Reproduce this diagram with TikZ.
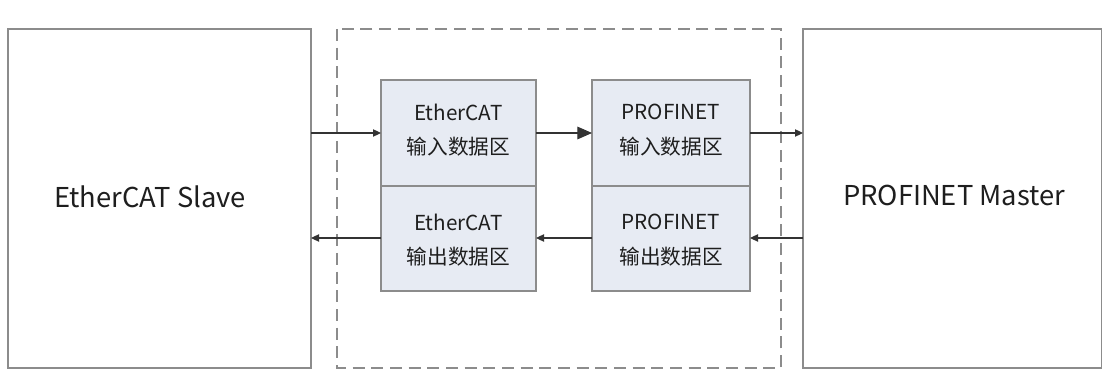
\documentclass[tikz,border=0pt]{standalone}
\usepackage{fontspec}
\setmainfont{Noto Sans CJK SC}
\usetikzlibrary{arrows.meta}
\definecolor{boxline}{HTML}{8C8C8C}
\definecolor{innerfill}{HTML}{E7EBF3}
\definecolor{arrowc}{HTML}{333333}
\definecolor{txt}{HTML}{1E1E1E}
\tikzset{
  bigbox/.style={draw=boxline, line width=1pt, fill=white},
  inbox/.style={draw=boxline, line width=1pt, fill=innerfill},
  dashbox/.style={draw=boxline, line width=1pt, dash pattern=on 9pt off 5pt},
  conn/.style={draw=arrowc, line width=0.8pt, -{Triangle[length=6pt,width=5.5pt]}},
  bigconn/.style={draw=arrowc, line width=0.8pt, -{Triangle[length=11pt,width=9.5pt]}},
  lbl/.style={text=txt, font=\fontsize{15.5}{26}\selectfont, align=center},
  biglbl/.style={text=txt, font=\fontsize{20.5}{24}\selectfont}
}
\begin{document}
\begin{tikzpicture}[x=0.75pt, y=-0.75pt]
\useasboundingbox (0,0) rectangle (1102,388);
\fill[white] (0,0) rectangle (1102,388);
\begin{scope}
\clip (0,0) rectangle (1102,388);
\draw[bigbox] (8,29) rectangle (311,368);
\draw[dashbox] (337,29) rectangle (781,368);
\draw[bigbox] (803,29) rectangle (1101.5,368);
\end{scope}
\node[biglbl] (slave) at (150,197) {EtherCAT Slave};
\node[biglbl] (master) at (954,195) {PROFINET Master};
% inner boxes
\draw[inbox] (381,80) rectangle (536,291);
\draw[inbox] (592,80) rectangle (750,291);
\draw[boxline, line width=1pt] (381,186) -- (536,186);
\draw[boxline, line width=1pt] (592,186) -- (750,186);
\node[lbl] (ecin) at (458.5,130) {EtherCAT\\输入数据区};
\node[lbl] (ecout) at (458.5,240) {EtherCAT\\输出数据区};
\node[lbl] (pnin) at (671,130) {PROFINET\\输入数据区};
\node[lbl] (pnout) at (671,240) {PROFINET\\输出数据区};
% anchor coordinates on box edges
\coordinate (sR1) at (311,133);
\coordinate (sR2) at (311,238);
\coordinate (eL1) at (381,133);
\coordinate (eL2) at (381,238);
\coordinate (eR1) at (536,133);
\coordinate (eR2) at (536,238);
\coordinate (pL1) at (592,133);
\coordinate (pL2) at (592,238);
\coordinate (pR1) at (750,133);
\coordinate (pR2) at (750,238);
\coordinate (mL1) at (803,133);
\coordinate (mL2) at (803,238);
\draw[conn] (sR1) -- (eL1);
\draw[bigconn] (eR1) -- (pL1);
\draw[conn] (pR1) -- (mL1);
\draw[conn] (mL2) -- (pR2);
\draw[conn] (pL2) -- (eR2);
\draw[conn] (eL2) -- (sR2);
\end{tikzpicture}
\end{document}
